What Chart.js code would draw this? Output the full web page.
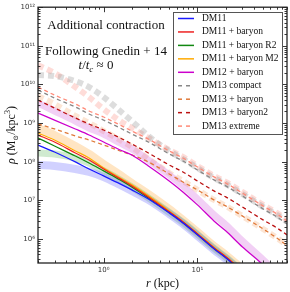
<!DOCTYPE html>
<html><head><meta charset="utf-8">
<script src="https://cdn.jsdelivr.net/npm/chart.js@4.4.0/dist/chart.umd.min.js"></script>
<style>html,body{margin:0;padding:0;background:#fff;overflow:hidden}</style>
</head><body>
<canvas id="c" width="290" height="292"></canvas>
<script>
// ---- data (r in kpc, rho in Msun/kpc^3) ----
const radii = [0.2,0.3,0.5,0.7,1,1.5,2,3,5,7,10,15,20,30,50,70,90];
const seriesLabels = ['DM11','DM11 + baryon','DM11 + baryon R2','DM11 + baryon M2','DM12 + baryon','DM13 compact','DM13 + baryon','DM13 + baryon2','DM13 extreme'];
const dm11         = [2.72e8,1.79e8,9.9e7,6.5e7,4.3e7,2.67e7,1.87e7,1.09e7,4.75e6,2.62e6,1.29e6,5.6e5,3.27e5,1.42e5];
const dm11Baryon   = [4.93e8,3.25e8,1.69e8,1.11e8,6.5e7,3.6e7,2.37e7,1.23e7,5.05e6,2.78e6,1.36e6,5.9e5,3.47e5,1.51e5];
const dm11BaryonR2 = [4.12e8,2.56e8,1.41e8,9.3e7,5.8e7,3.39e7,2.23e7,1.16e7,4.9e6,2.7e6,1.32e6,5.75e5,3.37e5,1.46e5];
const dm11BaryonM2 = [5.55e8,3.66e8,1.9e8,1.25e8,6.9e7,3.81e7,2.52e7,1.31e7,5.35e6,2.86e6,1.4e6,6.1e5,3.57e5,1.55e5];
const dm12Baryon   = [1.82e9,1.2e9,7.05e8,4.93e8,3.25e8,2.02e8,1.5e8,7.8e7,3.19e7,1.66e7,7.66e6,2.95e6,1.63e6,6.3e5,2.15e5,9.3e4];
const dm13Compact  = [7.16e9,4.45e9,2.61e9,1.72e9,1.2e9,7.47e8,5.22e8,3.25e8,1.59e8,1.05e8,6.14e7,3.39e7,2.37e7,1.31e7,6.03e6,3.75e6,2.47e6];
const dm13Baryon   = [9.5e8,7.05e8,4.65e8,3.66e8,2.72e8,1.9e8,1.5e8,9.9e7,4.84e7,3.0e7,1.87e7,1.03e7,7.2e6,3.97e6,1.83e6,1.07e6,6.7e5];
const dm13Baryon2  = [3.95e9,2.46e9,1.36e9,9.5e8,6.64e8,4.12e8,2.88e8,1.69e8,8.26e7,5.45e7,3.19e7,1.76e7,1.23e7,6.8e6,3.13e6,1.95e6,1.28e6];
const dm13Extreme  = [8.57e9,5.32e9,3.12e9,2.06e9,1.44e9,8.9e8,6.25e8,3.88e8,1.9e8,1.25e8,7.35e7,4.05e7,2.83e7,1.56e7,7.2e6,4.48e6,2.95e6];
// simulation profiles (thick translucent)
const simDm11      = [8.26e7,7.79e7,6.52e7,5.45e7,4.05e7,2.52e7,1.76e7,1.03e7,4.48e6,2.47e6,1.21e6,5.26e5,3.08e5,1.34e5];
const simDm11R2    = [1.69e8,1.59e8,1.25e8,9.3e7,5.8e7,3.39e7,2.23e7,1.16e7,4.9e6,2.7e6,1.32e6,5.75e5,3.37e5,1.46e5];
const simDm11M2    = [7.47e8,4.93e8,2.56e8,1.59e8,8.77e7,4.56e7,2.83e7,1.47e7,6.03e6,3.13e6,1.53e6,6.67e5,3.91e5,1.7e5];
const simDm12      = [3.31e9,2.06e9,1.13e9,7.47e8,5.22e8,3.06e8,2.14e8,1.11e8,4.56e7,2.37e7,1.09e7,4.22e6,2.33e6,8.97e5,2.9e5,1.34e5];
const simDm13Compact = [1.75e10,1.65e10,1.22e10,8.57e9,4.72e9,2.06e9,1.13e9,4.65e8,1.9e8,1.18e8,6.92e7,3.81e7,2.67e7,1.47e7,6.8e6,4.22e6,2.78e6];
const simDm13Extreme = [3.17e10,1.97e10,8.57e9,4.72e9,2.31e9,1.13e9,7.47e8,4.12e8,2.02e8,1.33e8,7.78e7,4.3e7,3.0e7,1.66e7,7.66e6,4.75e6,3.13e6];
const simDm13Baryon  = [5.0e9,3.12e9,1.53e9,1.01e9,6.25e8,3.66e8,2.41e8,1.18e8,5.14e7,3.19e7,1.87e7,1.03e7,7.2e6,3.97e6,1.83e6,1.07e6,7.08e5];
// tick labels
const xTickPowers = [0,1];
const xTickLabels = ['10\u2070','10\u00b9'];
const yTickPowers = [6,7,8,9,10,11,12];
const yTickLabels = ['10\u2076','10\u2077','10\u2078','10\u2079','10\u00b9\u2070','10\u00b9\u00b9','10\u00b9\u00b2'];
const annotationLines = ['Additional contraction','Following Gnedin + 14'];

// ---- build ----
const serif = "'Liberation Serif','DejaVu Serif',serif";
const mk = vals => vals.map((v,i)=>({x:radii[i], y:v}));
function line(label, vals, color, dash){
  return {label, data: mk(vals), borderColor: color, borderWidth: 1.3, borderDash: dash||[], pointRadius: 0,
          fill:false, cubicInterpolationMode:'monotone', order:1, inLegend:true};
}
function band(vals, color, width, dash){
  return {label:'', data: mk(vals), borderColor: color, borderWidth: width, borderDash: dash||[], pointRadius: 0,
          fill:false, cubicInterpolationMode:'monotone', order:2, inLegend:false, borderCapStyle:'butt'};
}
const D=[4,3];
const datasets = [
  line(seriesLabels[0], dm11, '#1a1aff'),
  line(seriesLabels[1], dm11Baryon, '#ee2222'),
  line(seriesLabels[2], dm11BaryonR2, '#118811'),
  line(seriesLabels[3], dm11BaryonM2, '#ffaa00'),
  line(seriesLabels[4], dm12Baryon, '#cc00cc'),
  line(seriesLabels[5], dm13Compact, '#888888', D),
  line(seriesLabels[6], dm13Baryon, '#e07a3a', D),
  line(seriesLabels[7], dm13Baryon2, '#bb1111', D),
  line(seriesLabels[8], dm13Extreme, '#ff8a78', D),
  band(simDm11, 'rgba(90,90,255,0.28)', 8),
  band(simDm11R2, 'rgba(40,160,40,0.22)', 7),
  band(simDm11M2, 'rgba(255,160,40,0.28)', 8),
  band(simDm12, 'rgba(215,110,225,0.32)', 7),
  band(simDm13Compact, 'rgba(150,150,150,0.32)', 6, [6,4]),
  band(simDm13Extreme, 'rgba(250,130,115,0.28)', 6, [6,4]),
  band(simDm13Baryon, 'rgba(245,160,100,0.28)', 6, [6,4])
];

function rich(ctx, parts, x, y, align){
  let w=0; parts.forEach(p=>{ctx.font=p[1]; w+=ctx.measureText(p[0]).width;});
  let cx = align==='center' ? x-w/2 : x;
  parts.forEach(p=>{ctx.font=p[1]; ctx.fillText(p[0], cx, y+(p[2]||0)); cx+=ctx.measureText(p[0]).width;});
}

const framePlugin = {id:'frame', afterDatasetsDraw(chart){
  const {ctx, chartArea:a, scales:{x,y}} = chart;
  ctx.save(); ctx.strokeStyle='#222'; ctx.lineWidth=0.9;
  const seg=(x1,y1,x2,y2)=>{ctx.beginPath();ctx.moveTo(x1,y1);ctx.lineTo(x2,y2);ctx.stroke();};
  for(let p=-1;p<=1;p++) for(let m=1;m<=9;m++){
    const v=m*Math.pow(10,p); if(v<x.min*0.999||v>x.max*1.001) continue;
    const px=Math.round(x.getPixelForValue(v))+0.5, L=m===1?5:2.5;
    seg(px,a.bottom,px,a.bottom-L); seg(px,a.top,px,a.top+L);
  }
  for(let p=5;p<=12;p++) for(let m=1;m<=9;m++){
    const v=m*Math.pow(10,p); if(v<y.min*0.999||v>y.max*1.001) continue;
    const py=Math.round(y.getPixelForValue(v))+0.5, L=m===1?5:2.5;
    seg(a.left,py,a.left+L,py); seg(a.right,py,a.right-L,py);
  }
  ctx.lineWidth=1.3; ctx.strokeStyle='#222';
  ctx.strokeRect(a.left, a.top, a.right-a.left, a.bottom-a.top);
  ctx.restore();
}};

const textPlugin = {id:'texts', afterDraw(chart){
  const ctx=chart.ctx, a=chart.chartArea;
  ctx.save(); ctx.fillStyle='#111'; ctx.textBaseline='alphabetic';
  ctx.textAlign='left';
  rich(ctx, [[annotationLines[0], '13px '+serif]], 106, 29, 'center');
  rich(ctx, [[annotationLines[1], '13px '+serif]], 106, 55, 'center');
  rich(ctx, [['t','italic 13px '+serif],['/','13px '+serif],['t','italic 13px '+serif],['c','italic 9px '+serif,3],[' \u2248 0','13px '+serif]], 96, 69, 'center');
  rich(ctx, [['r','italic 12px '+serif],[' (kpc)','12px '+serif]], (a.left+a.right)/2, 287, 'center');
  ctx.translate(15, (a.top+a.bottom)/2); ctx.rotate(-Math.PI/2);
  rich(ctx, [['\u03c1','italic 12px '+serif],[' (M','12px '+serif],['\u2299','7px '+serif,3],['/kpc','12px '+serif],['3','8px '+serif,-5],[')','12px '+serif]], 0, 0, 'center');
  ctx.restore();
  const ds = chart.data.datasets.filter(d=>d.inLegend);
  const bx=173, by=12, bw=109, bh=122;
  ctx.save();
  ctx.fillStyle='#fff'; ctx.fillRect(bx,by,bw,bh);
  ctx.strokeStyle='#555'; ctx.lineWidth=1; ctx.strokeRect(bx+0.5,by+0.5,bw,bh);
  ds.forEach((d,i)=>{
    const yy=18.5+i*13.45;
    ctx.beginPath(); ctx.setLineDash(d.borderDash.length?[4,4]:[]); ctx.strokeStyle=d.borderColor; ctx.lineWidth=1.5;
    ctx.moveTo(178,yy); ctx.lineTo(194,yy); ctx.stroke(); ctx.setLineDash([]);
    ctx.fillStyle='#111'; ctx.font='9.5px '+serif; ctx.textBaseline='middle'; ctx.textAlign='left';
    ctx.fillText(d.label, 202, yy);
  });
  ctx.restore();
}};

function tickCb(powers, labels){
  return function(value){
    const l=Math.log10(value), p=Math.round(l);
    if(Math.abs(l-p)>1e-6) return '';
    const i=powers.indexOf(p); return i>=0?labels[i]:'';
  };
}

new Chart(document.getElementById('c'), {
  type:'line',
  data:{datasets},
  options:{
    responsive:false, animation:false, devicePixelRatio:1,
    layout:{padding:{top:6,right:2,left:0,bottom:0}},
    datasets:{line:{clip:0}},
    plugins:{legend:{display:false}, tooltip:{enabled:false}},
    scales:{
      x:{type:'logarithmic', min:0.2, max:90,
         grid:{display:false, drawTicks:false}, border:{display:false},
         ticks:{autoSkip:false, maxRotation:0, padding:3, color:'#333', font:{family:'DejaVu Sans', size:7}, callback:tickCb(xTickPowers,xTickLabels)},
         afterFit(s){ s.height=29; }},
      y:{type:'logarithmic', min:2.4e5, max:1e12,
         grid:{display:false, drawTicks:false}, border:{display:false},
         ticks:{autoSkip:false, padding:3, color:'#333', font:{family:'DejaVu Sans', size:7}, callback:tickCb(yTickPowers,yTickLabels)},
         afterFit(s){ s.width=38; }}
    }
  },
  plugins:[framePlugin, textPlugin]
});
</script>
</body></html>
